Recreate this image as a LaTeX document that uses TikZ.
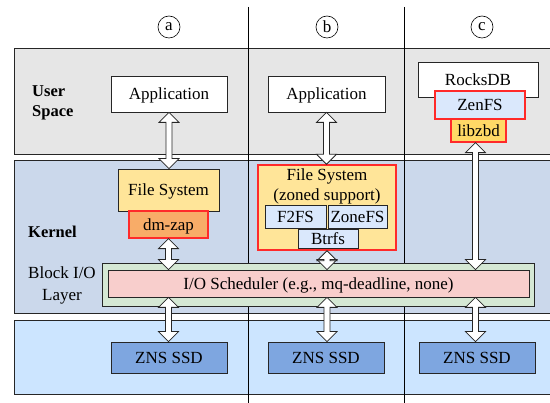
\documentclass[tikz,border=0pt]{standalone}
\usepackage{fontspec}
\setmainfont{Liberation Serif}
\usetikzlibrary{calc}
\definecolor{usergray}{HTML}{E6E6E6}
\definecolor{kernblue}{HTML}{CBD8EB}
\definecolor{devblue}{HTML}{CCE5FF}
\definecolor{fsyellow}{HTML}{FFE599}
\definecolor{dmorange}{HTML}{F8AC68}
\definecolor{lightblue}{HTML}{DAE8FC}
\definecolor{zbdyellow}{HTML}{FFD966}
\definecolor{blkgreen}{HTML}{D5E8D4}
\definecolor{schedpink}{HTML}{F8CECC}
\definecolor{ssdblue}{HTML}{7EA6E0}
\definecolor{redline}{HTML}{FF2A2A}
\definecolor{edge}{HTML}{262626}
\tikzset{
  every node/.style={font=\fontsize{17}{20}\selectfont, inner sep=0pt},
  panel/.style={draw=edge, line width=1.1pt, anchor=north west},
  box/.style={draw=edge, line width=0.8pt, minimum width=#1, text height=12pt, text depth=0pt},
  box/.default=100pt,
  redbox/.style={draw=redline, line width=1.3pt},
  divider/.style={draw=black, line width=0.9pt},
  circlab/.style={circle, draw=black, line width=0.6pt, minimum size=22pt},
  harrow/.style={draw=edge, fill=white, line width=0.8pt, line join=miter},
}
\newcommand\hollowarrow[2]{%
  \path[harrow] let \p1=(#1), \p2=(#2) in
    (\x1,\y1) -- (\x1+10pt,\y1-10pt) -- (\x1+3pt,\y1-10pt) --
    (\x1+3pt,\y2+10pt) -- (\x1+10pt,\y2+10pt) -- (\x1,\y2) --
    (\x1-10pt,\y2+10pt) -- (\x1-3pt,\y2+10pt) -- (\x1-3pt,\y1-10pt) --
    (\x1-10pt,\y1-10pt) -- cycle;}
\begin{document}
\begin{tikzpicture}[x=1pt,y=-1pt]
\useasboundingbox (0,0) rectangle (550,403);
% panels
\node[panel, fill=usergray, minimum width=540pt, minimum height=106pt] (user) at (14,48) {};
\node[panel, fill=kernblue, minimum width=540pt, minimum height=153pt] (kern) at (14,160) {};
\node[panel, fill=devblue, minimum width=540pt, minimum height=74pt] (dev) at (14,320) {};
% dividers
\coordinate (d1t) at (248,7); \coordinate (d1b) at (248,403);
\coordinate (d2t) at (404,7); \coordinate (d2b) at (404,403);
\draw[divider] (d1t) -- (d1b);
\draw[divider] (d2t) -- (d2b);
% circled labels
\node[circlab] (ca) at (169,27) {a};
\node[circlab] (cb) at (327,27) {b};
\node[circlab] (cc) at (482,27) {c};
% layer labels
\node[anchor=west, align=left, font=\fontsize{16.5}{20}\selectfont\bfseries] (userlab) at (32,103) {User\\Space};
\node[anchor=west, font=\fontsize{16.5}{20}\selectfont\bfseries] (kernlab) at (28,232) {Kernel};
\node[align=center, font=\fontsize{17}{22}\selectfont] (blklab) at (62,285) {Block I/O\\Layer};
% user space boxes
\node[box=116pt, fill=white, minimum height=36pt] (appa) at (169,94) {Application};
\node[box=117pt, fill=white, minimum height=36pt] (appb) at (326.5,94) {Application};
\node[box=120pt, fill=white, minimum height=35pt] (rocks) at (478,79.5) {RocksDB};
\node[box=90pt, redbox, fill=lightblue, minimum height=28pt] (zenfs) at (480,105) {ZenFS};
\node[box=55pt, redbox, fill=zbdyellow, minimum height=23pt] (libzbd) at (478.5,130.5) {libzbd};
% kernel boxes
\node[box=101pt, fill=fsyellow, minimum height=42pt] (fsa) at (168.5,190) {File System};
\node[box=79pt, redbox, fill=dmorange, minimum height=27pt] (dmzap) at (168.5,224.5) {dm-zap};
\node[draw=redline, line width=1.5pt, fill=fsyellow, minimum width=138pt, minimum height=85pt] (fsb) at (327,207.5) {};
\node[align=center] (fsbtext) at (327,186) {File System\\(zoned support)};
\node[box=61pt, fill=lightblue, minimum height=23pt] (f2fs) at (295.5,216.5) {F2FS};
\node[box=59pt, fill=lightblue, minimum height=23pt] (zonefs) at (357.5,216.5) {ZoneFS};
\node[box=60pt, fill=lightblue, minimum height=19pt] (btrfs) at (328,238.5) {Btrfs};
\node[box=432pt, fill=blkgreen, minimum height=43pt] (blk) at (318,284.5) {};
\node[box=421pt, fill=schedpink, minimum height=27pt] (sched) at (318.5,283.5) {I/O Scheduler (e.g., mq-deadline, none)};
% devices
\node[box=116pt, fill=ssdblue, minimum height=31pt] (znsa) at (169,357.5) {ZNS SSD};
\node[box=116pt, fill=ssdblue, minimum height=31pt] (znsb) at (326,357.5) {ZNS SSD};
\node[box=116pt, fill=ssdblue, minimum height=31pt] (znsc) at (477,357.5) {ZNS SSD};
% arrows
\hollowarrow{appa.south}{fsa.north}
\hollowarrow{dmzap.south}{dmzap.south |- sched.north}
\hollowarrow{dmzap.south |- sched.south}{znsa.north}
\hollowarrow{appb.south}{fsb.north}
\hollowarrow{fsb.south}{fsb.south |- sched.north}
\hollowarrow{fsb.south |- sched.south}{znsb.north}
\coordinate (ctop) at ([xshift=-3pt]libzbd.south);
\hollowarrow{ctop}{ctop |- sched.north}
\hollowarrow{ctop |- sched.south}{ctop |- znsc.north}
\end{tikzpicture}
\end{document}
